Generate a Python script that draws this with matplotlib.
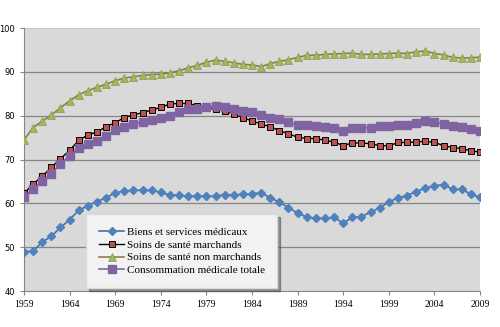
import matplotlib.pyplot as plt
import matplotlib as mpl

years = list(range(1959, 2010))

biens = [49.0, 49.1, 51.2, 52.5, 54.5, 56.3, 58.4, 59.5, 60.4, 61.3,
         62.4, 62.8, 63.0, 63.0, 63.0, 62.5, 61.9, 61.9, 61.6, 61.7,
         61.6, 61.7, 62.0, 61.9, 62.1, 62.2, 62.4, 61.3, 60.3, 59.0,
         57.8, 56.9, 56.6, 56.6, 56.8, 55.5, 56.8, 57.0, 58.0, 59.0,
         60.3, 61.3, 61.8, 62.7, 63.5, 64.0, 64.3, 63.2, 63.2, 62.1,
         61.4]

marchands = [62.3, 64.4, 66.2, 68.2, 70.2, 72.1, 74.4, 75.6, 76.3, 77.5,
             78.4, 79.6, 80.2, 80.7, 81.3, 81.9, 82.7, 82.8, 82.8, 82.3,
             81.9, 81.5, 81.1, 80.3, 79.6, 78.8, 78.1, 77.5, 76.6, 75.9,
             75.1, 74.8, 74.8, 74.4, 74.0, 73.2, 73.8, 73.8, 73.6, 73.2,
             73.1, 73.9, 73.9, 74.0, 74.2, 73.9, 73.2, 72.7, 72.5, 72.0,
             71.7]

non_marchands = [74.5, 77.3, 78.8, 80.2, 81.8, 83.4, 84.8, 85.7, 86.5, 87.2,
                 88.0, 88.6, 88.9, 89.2, 89.4, 89.5, 89.8, 90.3, 90.9, 91.5,
                 92.2, 92.7, 92.4, 92.1, 91.7, 91.6, 91.2, 91.9, 92.4, 92.8,
                 93.3, 93.8, 93.8, 94.0, 94.1, 94.2, 94.3, 94.0, 94.0, 94.1,
                 94.2, 94.3, 94.2, 94.6, 94.8, 94.2, 93.9, 93.3, 93.2, 93.2,
                 93.4]

totale = [61.5, 63.3, 65.0, 66.8, 69.0, 70.9, 72.7, 73.5, 74.2, 75.4,
          76.7, 77.5, 78.1, 78.5, 79.0, 79.4, 80.0, 80.8, 81.5, 81.5,
          81.9, 82.3, 81.9, 81.5, 81.1, 80.8, 80.1, 79.6, 79.2, 78.5,
          77.9, 77.8, 77.6, 77.5, 77.3, 76.6, 77.2, 77.2, 77.3, 77.6,
          77.7, 77.9, 78.0, 78.3, 78.7, 78.5, 78.1, 77.6, 77.5, 77.0,
          76.6]

labels = ["Biens et services médicaux", "Soins de santé marchands",
          "Soins de santé non marchands", "Consommation médicale totale"]

fig = plt.figure(figsize=(5, 3.27), dpi=100)
ax = fig.add_axes([0.048, 0.11, 0.912, 0.804])
ax.set_facecolor("#d9d9d9")

ax.plot(years, biens, color="#4a6fa5", lw=1.2, marker="D", ms=4,
        mfc="#4f81bd", mec="#4f81bd", label=labels[0], zorder=3)
ax.plot(years, marchands, color="black", lw=1.0, marker="s", ms=5,
        mfc="#c0504d", mec="black", mew=0.7, label=labels[1], zorder=3)
ax.plot(years, non_marchands, color="#937a4a", lw=1.2, marker="^", ms=5.5,
        mfc="#9bbb59", mec="#8a9a50", mew=0.5, label=labels[2], zorder=3)
ax.plot(years, totale, color="#7b68a6", lw=1.2, marker="s", ms=6,
        mfc="#8064a2", mec="#8064a2", label=labels[3], zorder=3)

ax.set_xlim(1959, 2009)
ax.set_ylim(40, 100)
ax.set_xticks(range(1959, 2010, 5))
ax.set_yticks(range(40, 101, 10))
for y in range(50, 100, 10):
    ax.axhline(y, color="#868686", lw=0.9, zorder=1)

for s in ["top", "right"]:
    ax.spines[s].set_visible(False)
ax.axhline(100, color="#c0c0c0", lw=1.2, zorder=1)
ax.spines["left"].set_color("#868686")
ax.spines["bottom"].set_color("#868686")
ax.tick_params(axis="both", colors="#868686", length=3, width=0.8)
for t in ax.get_xticklabels():
    t.set_fontfamily("Liberation Serif")
    t.set_fontsize(7)
    t.set_color("black")
for t in ax.get_yticklabels():
    t.set_fontfamily("DejaVu Sans")
    t.set_fontsize(6)
    t.set_color("black")

leg = ax.legend(loc="lower left", bbox_to_anchor=(0.136, 0.011), frameon=True,
                shadow=True, fancybox=False, prop={"family": "Liberation Serif", "size": 8},
                handlelength=2.3, handletextpad=0.2, labelspacing=0.28,
                borderpad=1.15, borderaxespad=0)
leg.get_frame().set_facecolor("#f2f2f2")
leg.get_frame().set_edgecolor("#d9d9d9")
leg.get_frame().set_alpha(1)

plt.savefig("out.png", dpi=100)
